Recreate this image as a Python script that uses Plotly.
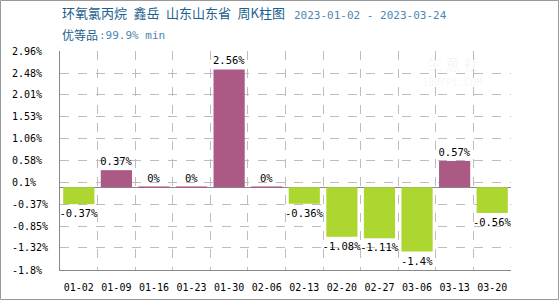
import plotly.graph_objects as go

categories = ["01-02", "01-09", "01-16", "01-23", "01-30", "02-06",
              "02-13", "02-20", "02-27", "03-06", "03-13", "03-20"]
changes = [-0.37, 0.37, 0, 0, 2.56, 0, -0.36, -1.08, -1.11, -1.4, 0.57, -0.56]
y_ticks = [-1.8, -1.32, -0.85, -0.37, 0.1, 0.58, 1.06, 1.53, 2.01, 2.48, 2.96]
y_tick_labels = ["-1.8%", "-1.32%", "-0.85%", "-0.37%", "0.1%", "0.58%",
                 "1.06%", "1.53%", "2.01%", "2.48%", "2.96%"]
title_main = "环氧氯丙烷\u2002鑫岳\u2002山东山东省\u2002周K柱图"
title_dates = "2023-01-02 - 2023-03-24"
sub_label = "优等品"
sub_value = ":99.9% min"

W, H = 560, 300
L, R, T, B = 60, 49, 51, 30
PW, PH = W - L - R, H - T - B

UP = "#ab5a85"
DOWN = "#add631"
MONO = "DejaVu Sans Mono, Liberation Mono, monospace"
CJK = "Noto Sans CJK SC, sans-serif"

colors = [UP if v >= 0 else DOWN for v in changes]
line_w = [1 if v == 0 else 0 for v in changes]
texts = [f"{v:g}%" for v in changes]

fig = go.Figure(go.Bar(
    x=categories, y=changes,
    marker=dict(color=colors, line=dict(color=colors, width=line_w)),
    text=texts, textposition="outside", cliponaxis=False, constraintext="none",
    textfont=dict(family=MONO, size=10.5, color="#000"),
))

fig.update_layout(
    width=W, height=H,
    margin=dict(l=L, r=R, t=T, b=B, pad=0, autoexpand=False),
    paper_bgcolor="white", plot_bgcolor="white",
    showlegend=False, bargap=0.17,
    font=dict(family=MONO, size=10, color="#000"),
)
fig.update_xaxes(
    type="category", tickson="boundaries", ticks="", tickangle=0, automargin=False,
    showgrid=True, gridcolor="#bdbdbd", griddash="dash", gridwidth=1,
    showline=True, linecolor="#888", linewidth=1,
    tickfont=dict(family=MONO, size=10, color="#000"),
    ticklabelstandoff=8,
)
fig.update_yaxes(
    range=[y_ticks[0], y_ticks[-1]], tickvals=y_ticks, showticklabels=False,
    automargin=False,
    showgrid=True, gridcolor="#bdbdbd", griddash="dash", gridwidth=1,
    zeroline=True, zerolinecolor="#888", zerolinewidth=1,
    showline=True, linecolor="#888", linewidth=1,
)

ann = []
for v, lab in zip(y_ticks, y_tick_labels):
    ann.append(dict(xref="paper", yref="y", x=-50 / PW, y=v, text=lab,
                    xanchor="left", yanchor="middle", showarrow=False,
                    font=dict(family=MONO, size=10, color="#000")))
ann += [
    dict(xref="paper", yref="paper", x=0, y=1 + 38 / PH, text=title_main,
         xanchor="left", yanchor="middle", showarrow=False,
         font=dict(family=CJK, size=13, color="#1d5f8f")),
    dict(xref="paper", yref="paper", x=(292 - L) / PW, y=1 + 36 / PH, text=title_dates,
         xanchor="left", yanchor="middle", showarrow=False,
         font=dict(family=MONO, size=11, color="#4d87b3")),
    dict(xref="paper", yref="paper", x=0, y=1 + 17 / PH, text=sub_label,
         xanchor="left", yanchor="middle", showarrow=False,
         font=dict(family=CJK, size=12, color="#1d5f8f")),
    dict(xref="paper", yref="paper", x=(97 - L) / PW, y=1 + 16 / PH, text=sub_value,
         xanchor="left", yanchor="middle", showarrow=False,
         font=dict(family=MONO, size=11, color="#4d87b3")),
    dict(xref="paper", yref="paper", x=(425 - L) / PW, y=1 - 12 / PH, text="生 意 社",
         xanchor="left", yanchor="middle", showarrow=False,
         font=dict(family=CJK, size=15, color="rgba(200,180,180,0.15)")),
    dict(xref="paper", yref="paper", x=(420 - L) / PW, y=1 - 31 / PH, text="100PPI.COM",
         xanchor="left", yanchor="middle", showarrow=False,
         font=dict(family=MONO, size=10, color="rgba(200,180,180,0.15)")),
]
fig.update_layout(annotations=ann)

fig.add_shape(type="rect", xref="paper", yref="paper", layer="above",
              x0=-(L - 0.5) / PW, x1=(W - L - 1.5) / PW,
              y0=-(B - 0.5) / PH, y1=1 + (T - 0.5) / PH,
              line=dict(color="#999", width=1), fillcolor="rgba(0,0,0,0)")

fig.write_html("out.html")
